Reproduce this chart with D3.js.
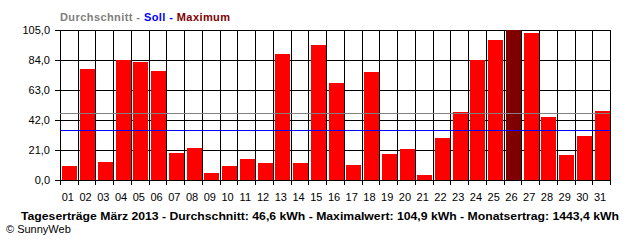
<!DOCTYPE html>
<html>
<head>
<meta charset="utf-8">
<script src="https://cdn.jsdelivr.net/npm/d3@7"></script>
<style>
	body { margin: 0; background: #fff; }
	text { font-family: "Liberation Sans", Arial, sans-serif; }
</style>
</head>
<body>
<div id="chart"></div>
<script>
const days = ["01","02","03","04","05","06","07","08","09","10","11","12","13","14","15","16",
	"17","18","19","20","21","22","23","24","25","26","27","28","29","30","31"];
const yields = [10.0, 77.9, 12.8, 83.8, 82.8, 76.5, 19.1, 22.6, 5.1, 10.0, 14.9, 12.1, 88.4, 12.1, 94.7, 68.1,
	10.7, 75.8, 18.4, 21.9, 3.7, 29.6, 47.8, 84.2, 98.2, 104.9, 103.1, 44.3, 17.7, 31.0, 48.5];
const yTicks = [0, 21, 42, 63, 84, 105];
const average = 46.6;
const target = 35.0;
const footer = "Tageserträge März 2013 - Durchschnitt: 46,6 kWh - Maximalwert: 104,9 kWh - Monatsertrag: 1443,4 kWh";

const width = 640, height = 240;
const margin = {top: 30, right: 30, bottom: 60, left: 60};

const svg = d3.select("#chart").append("svg")
	.attr("width", width)
	.attr("height", height)
	.style("display", "block");

const xGrid = d3.scaleBand()
	.domain(days)
	.range([margin.left, width - margin.right]);

const xBar = d3.scaleBand()
	.domain(days)
	.range([margin.left, width - margin.right])
	.paddingInner(0.16)
	.paddingOuter(0.08);

const y = d3.scaleLinear()
	.domain([0, 105])
	.range([height - margin.bottom, margin.top]);

const fmt = d => d3.format(".1f")(d).replace(".", ",");
const maxVal = d3.max(yields);

// horizontal grid
svg.append("g")
	.selectAll("line")
	.data(yTicks)
	.enter().append("line")
	.attr("x1", margin.left - 5)
	.attr("x2", width - margin.right)
	.attr("y1", d => Math.round(y(d)) + 0.5)
	.attr("y2", d => Math.round(y(d)) + 0.5)
	.attr("stroke", "#000")
	.attr("stroke-width", 1);

// vertical grid at day boundaries
const bounds = days.map(d => xGrid(d)).concat([width - margin.right]);
svg.append("g")
	.selectAll("line")
	.data(bounds)
	.enter().append("line")
	.attr("x1", d => Math.round(d) + 0.5)
	.attr("x2", d => Math.round(d) + 0.5)
	.attr("y1", y(105))
	.attr("y2", y(0) + 5)
	.attr("stroke", "#000")
	.attr("stroke-width", 1);

// bars
svg.append("g")
	.selectAll("rect")
	.data(yields)
	.enter().append("rect")
	.attr("x", (d, i) => Math.round(xBar(days[i])) + 1)
	.attr("width", Math.round(xBar.bandwidth()))
	.attr("y", d => Math.round(y(d)))
	.attr("height", d => Math.round(y(0)) - Math.round(y(d)))
	.attr("fill", d => d === maxVal ? "#800000" : "#ff0000");

// average & target lines
svg.append("line")
	.attr("x1", margin.left).attr("x2", width - margin.right)
	.attr("y1", Math.round(y(average)) + 0.5).attr("y2", Math.round(y(average)) + 0.5)
	.attr("stroke", "#808080").attr("stroke-width", 1);

svg.append("line")
	.attr("x1", margin.left).attr("x2", width - margin.right)
	.attr("y1", Math.round(y(target)) + 0.5).attr("y2", Math.round(y(target)) + 0.5)
	.attr("stroke", "#0000ff").attr("stroke-width", 1);

// y labels
svg.append("g")
	.selectAll("text")
	.data(yTicks)
	.enter().append("text")
	.attr("x", margin.left - 10)
	.attr("y", d => y(d))
	.attr("dy", "0.36em")
	.attr("text-anchor", "end")
	.attr("font-size", 11)
	.text(fmt);

// x labels
svg.append("g")
	.selectAll("text")
	.data(days)
	.enter().append("text")
	.attr("x", d => xGrid(d) + xGrid.bandwidth() / 2 - 1)
	.attr("y", 200.5)
	.attr("text-anchor", "middle")
	.attr("font-size", 11)
	.text(d => d);

// legend title
const legend = svg.append("text")
	.attr("x", margin.left)
	.attr("y", 20.5)
	.attr("font-size", 11)
	.attr("font-weight", "bold")
	.attr("textLength", 170)
	.attr("lengthAdjust", "spacing");
legend.append("tspan").attr("fill", "#808080").text("Durchschnitt - ");
legend.append("tspan").attr("fill", "#0000ff").text("Soll - ");
legend.append("tspan").attr("fill", "#800000").text("Maximum");

svg.append("text")
	.attr("x", 21)
	.attr("y", 219.5)
	.attr("font-size", 11)
	.attr("font-weight", "bold")
	.attr("textLength", 598)
	.attr("lengthAdjust", "spacingAndGlyphs")
	.text(footer);

svg.append("text")
	.attr("x", 6)
	.attr("y", 233)
	.attr("font-size", 11)
	.text("© SunnyWeb");
</script>
</body>
</html>
